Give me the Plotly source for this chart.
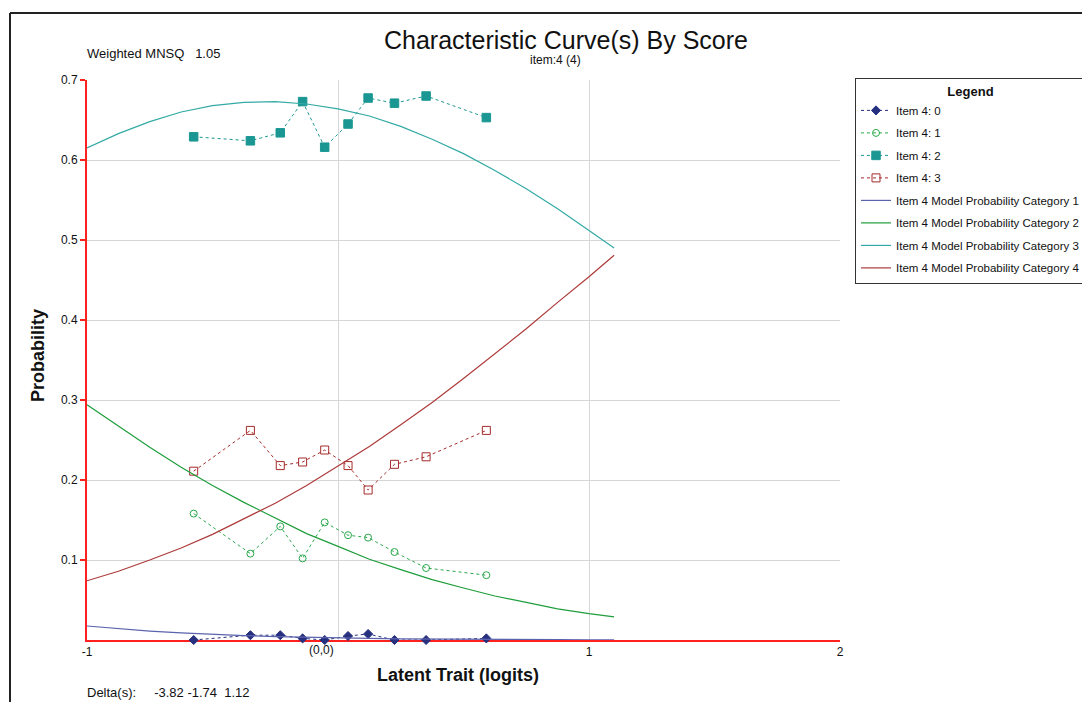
import plotly.graph_objects as go

# ---------------- data ----------------
obs_x = [-0.575, -0.349, -0.230, -0.141, -0.053, 0.040, 0.120, 0.225, 0.351, 0.591]
obs_cat0 = [0.000, 0.006, 0.006, 0.002, 0.000, 0.005, 0.0075, 0.000, 0.000, 0.002]
obs_cat1 = [0.158, 0.108, 0.142, 0.102, 0.147, 0.131, 0.128, 0.110, 0.090, 0.081]
obs_cat2 = [0.629, 0.624, 0.634, 0.673, 0.616, 0.645, 0.6775, 0.671, 0.680, 0.653]
obs_cat3 = [0.211, 0.262, 0.218, 0.2225, 0.2375, 0.218, 0.1875, 0.2196, 0.229, 0.262]

model_x = [-1.0, -0.875, -0.75, -0.625, -0.5, -0.375, -0.25, -0.125, 0.0,
           0.125, 0.25, 0.375, 0.5, 0.625, 0.75, 0.875, 1.0, 1.1]
model_cat1 = [0.0175, 0.0140, 0.0112, 0.0089, 0.0070, 0.0055, 0.0043, 0.0033, 0.0026,
              0.0020, 0.0015, 0.0011, 0.0009, 0.0007, 0.0005, 0.0004, 0.0003, 0.0002]
model_cat2 = [0.294, 0.267, 0.241, 0.216, 0.193, 0.172, 0.152, 0.133, 0.117,
              0.101, 0.088, 0.0755, 0.065, 0.055, 0.047, 0.039, 0.033, 0.029]
model_cat3 = [0.615, 0.633, 0.648, 0.660, 0.668, 0.672, 0.673, 0.670, 0.664,
              0.655, 0.642, 0.626, 0.608, 0.587, 0.564, 0.539, 0.512, 0.490]
model_cat4 = [0.074, 0.086, 0.100, 0.115, 0.132, 0.151, 0.171, 0.193, 0.217,
              0.242, 0.269, 0.297, 0.327, 0.358, 0.389, 0.422, 0.454, 0.481]

x_tickvals = [-1, 0, 1, 2]
x_ticktext = ["-1", "", "1", "2"]
y_tickvals = [0.1, 0.2, 0.3, 0.4, 0.5, 0.6, 0.7]
y_ticktext = ["0.1", "0.2", "0.3", "0.4", "0.5", "0.6", "0.7"]

FONT = "Liberation Sans, Arial, sans-serif"

C_BLUE = "#26307e"
C_BLUE_L = "#5c63ad"
C_GREEN = "#2aa84c"
C_GREEN_L = "#1f9e3c"
C_TEAL = "#1a9793"
C_TEAL_L = "#34aaa5"
C_RED = "#a52a2a"
C_RED_L = "#ad3a3a"

fig = go.Figure()

obs = [
    ("Item 4: 0", obs_cat0, C_BLUE, "diamond", 7),
    ("Item 4: 1", obs_cat1, C_GREEN, "circle-open", 7),
    ("Item 4: 2", obs_cat2, C_TEAL, "square", 8.5),
    ("Item 4: 3", obs_cat3, C_RED, "square-open", 8),
]
for i, (name, ys, col, sym, ms) in enumerate(obs):
    fig.add_trace(go.Scatter(
        x=obs_x, y=ys, name=name, mode="lines+markers",
        line=dict(color=col, width=1, dash="3px,3px"),
        marker=dict(symbol=sym, color=col, size=ms,
                    line=dict(color=col, width=1)),
        cliponaxis=False, legendgroup=f"g{i}",
    ))

models = [
    ("Item 4 Model Probability Category 1", model_cat1, C_BLUE_L),
    ("Item 4 Model Probability Category 2", model_cat2, C_GREEN_L),
    ("Item 4 Model Probability Category 3", model_cat3, C_TEAL_L),
    ("Item 4 Model Probability Category 4", model_cat4, C_RED_L),
]
for j, (name, ys, col) in enumerate(models):
    fig.add_trace(go.Scatter(
        x=model_x, y=ys, name=name, mode="lines",
        line=dict(color=col, width=1.2),
        cliponaxis=False, legendgroup=f"m{j}",
    ))

# the page body adds an 8px margin; work in screen pixels and convert
OFF = 8
W, H = 1090 - OFF, 702 - OFF
PL, PR, PT, PB = 87, 840, 80, 640          # plot area in screen pixels
L, T = PL - OFF, PT - OFF
R, B = W - (PR - OFF), H - (PB - OFF)
pw, ph = PR - PL, PB - PT


def px(X):
    return (X - PL) / pw


def py(Y):
    return (PB - Y) / ph


annotations = [
    dict(text="Characteristic Curve(s) By Score", x=px(566), y=py(40),
         xref="paper", yref="paper", showarrow=False,
         font=dict(family=FONT, size=25, color="#111"),
         xanchor="center", yanchor="middle"),
    dict(text="item:4 (4)", x=px(555), y=py(60),
         xref="paper", yref="paper", showarrow=False,
         font=dict(family=FONT, size=12, color="#111"),
         xanchor="center", yanchor="middle"),
    dict(text="Weighted MNSQ\u00a0\u00a0 1.05", x=px(85), y=py(54),
         xref="paper", yref="paper", showarrow=False,
         font=dict(family=FONT, size=13, color="#111"),
         xanchor="left", yanchor="middle"),
    dict(text="Delta(s):\u00a0\u00a0\u00a0\u00a0 -3.82 -1.74\u00a0 1.12", x=px(85), y=py(692),
         xref="paper", yref="paper", showarrow=False,
         font=dict(family=FONT, size=13, color="#111"),
         xanchor="left", yanchor="middle"),
    dict(text="(0,0)", x=-0.064, y=py(650), xref="x", yref="paper",
         showarrow=False, font=dict(family=FONT, size=12, color="#111"),
         xanchor="center", yanchor="middle"),
    dict(text="<b>Latent Trait (logits)</b>", x=px(457.5), y=py(675),
         xref="paper", yref="paper", showarrow=False,
         font=dict(family=FONT, size=18, color="#111"),
         xanchor="center", yanchor="middle"),
    dict(text="<b>Probability</b>", x=px(38), y=py(356), textangle=-90,
         xref="paper", yref="paper", showarrow=False,
         font=dict(family=FONT, size=18, color="#111"),
         xanchor="center", yanchor="middle"),
]

shapes = [
    dict(type="line", xref="paper", yref="paper",
         x0=px(10), x1=px(1100), y0=py(13), y1=py(13),
         line=dict(color="#222", width=2)),
    dict(type="line", xref="paper", yref="paper",
         x0=px(10), x1=px(10), y0=py(13), y1=py(710),
         line=dict(color="#222", width=2)),
]

fig.update_layout(
    width=W, height=H,
    margin=dict(l=L, r=R, t=T, b=B, autoexpand=False),
    paper_bgcolor="white", plot_bgcolor="white",
    font=dict(family=FONT, size=11, color="#111"),
    showlegend=True,
    legend=dict(
        x=px(855), y=py(78), xanchor="left", yanchor="top",
        bordercolor="#333", borderwidth=1, bgcolor="white",
        font=dict(family=FONT, size=11.5, color="#111"),
        title=dict(text="<b>Legend</b>", side="top center",
                   font=dict(family=FONT, size=13, color="#111")),
        traceorder="grouped", tracegroupgap=3.5,
        itemwidth=30,
    ),
    xaxis=dict(
        range=[-1, 2], tickvals=x_tickvals, ticktext=x_ticktext,
        showgrid=True, gridcolor="#d6d6d6", gridwidth=1,
        zeroline=False, showline=True, linecolor="#ff2020", linewidth=2,
        ticks="", tickfont=dict(family=FONT, size=12, color="#111"),
        layer="below traces",
    ),
    yaxis=dict(
        range=[0, 0.7], tickvals=y_tickvals, ticktext=y_ticktext,
        showgrid=True, gridcolor="#d6d6d6", gridwidth=1,
        zeroline=False, showline=True, linecolor="#ff2020", linewidth=2,
        ticks="outside", ticklen=5, tickwidth=2, tickcolor="#ff2020",
        tickfont=dict(family=FONT, size=12, color="#111"),
        layer="below traces",
    ),
    annotations=annotations,
    shapes=shapes,
)

fig.write_html("out.html")
